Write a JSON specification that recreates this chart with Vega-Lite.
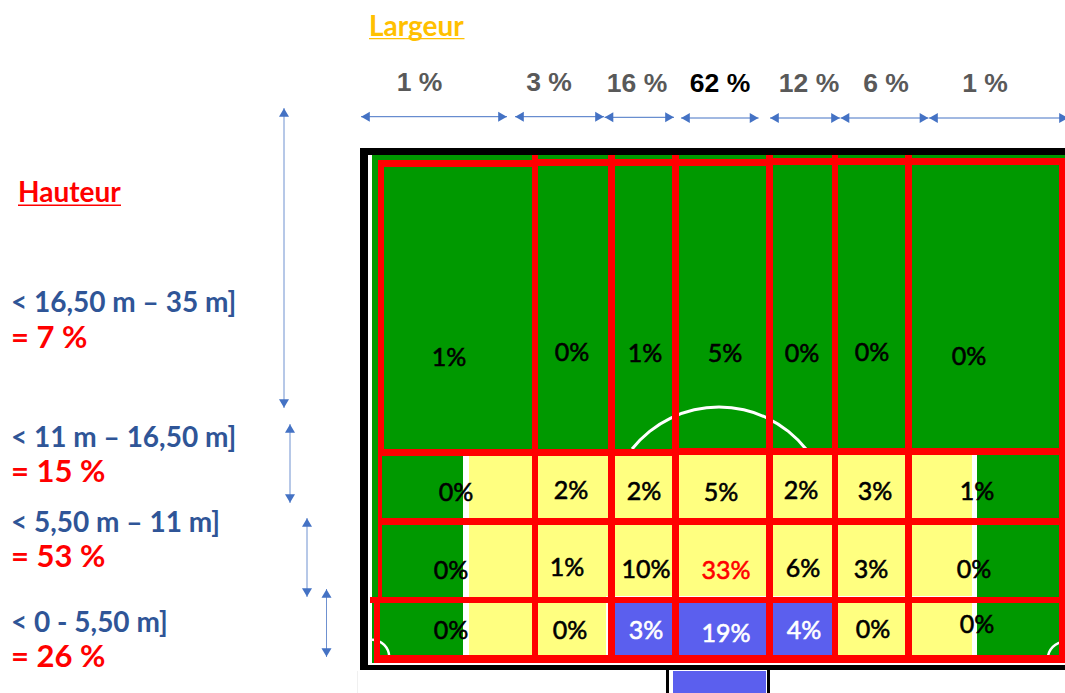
{
"$schema":"https://vega.github.io/schema/vega-lite/v6.json",
"width":1065,"height":693,"padding":0,
"autosize":{"type":"none"},
"background":"white",
"view":{"stroke":null},
"datasets":{
"zones":[
{"zone":"trame","x":357,"x2":358,"y":671,"y2":693},
{"zone":"cadre","x":360,"x2":1065,"y":148,"y2":155},
{"zone":"cadre","x":360,"x2":368,"y":148,"y2":670},
{"zone":"cadre","x":360,"x2":1065,"y":665,"y2":670},
{"zone":"terrain","x":372,"x2":1065,"y":155,"y2":663},
{"zone":"ligne","x":463,"x2":977,"y":452,"y2":656},
{"zone":"surface","x":469,"x2":972,"y":454,"y2":596},
{"zone":"surface","x":469,"x2":606,"y":596,"y2":656},
{"zone":"surface","x":608,"x2":972,"y":598,"y2":656},
{"zone":"but","x":615,"x2":672,"y":603,"y2":656},
{"zone":"but","x":679,"x2":766,"y":603,"y2":656},
{"zone":"but","x":772,"x2":832,"y":603,"y2":656},
{"zone":"cadre","x":666,"x2":770,"y":670,"y2":693},
{"zone":"ligne","x":669,"x2":767,"y":670,"y2":693},
{"zone":"but","x":673,"x2":766,"y":671,"y2":693}
],
"lignes":[
{"x":378,"x2":532,"y":160,"y2":167},
{"x":532,"x2":772,"y":159,"y2":166},
{"x":772,"x2":1060,"y":158,"y2":165},
{"x":378,"x2":384,"y":160,"y2":451},
{"x":378,"x2":382,"y":451,"y2":600},
{"x":374,"x2":380,"y":600,"y2":663},
{"x":532,"x2":538,"y":155,"y2":663},
{"x":608,"x2":615,"y":155,"y2":663},
{"x":672,"x2":679,"y":155,"y2":663},
{"x":766,"x2":773,"y":155,"y2":663},
{"x":832,"x2":838,"y":155,"y2":663},
{"x":905,"x2":912,"y":155,"y2":663},
{"x":1059,"x2":1065,"y":158,"y2":663},
{"x":378,"x2":679,"y":449,"y2":456},
{"x":679,"x2":1065,"y":448,"y2":455},
{"x":378,"x2":1065,"y":518,"y2":525},
{"x":370,"x2":1065,"y":597,"y2":603},
{"x":374,"x2":1065,"y":655,"y2":663}
],
"arcs":[
{"x":719,"y":518,"a0":-0.9,"a1":0.9,"r":109.5,"r2":112.5},
{"x":372,"y":657,"a0":0,"a1":1.57,"r":16,"r2":18.5},
{"x":1065,"y":659,"a0":-1.57,"a1":0,"r":16,"r2":18.5}
],
"cellules":[
{"label":"1%","zone":"terrain","x":449,"y":357},
{"label":"0%","zone":"terrain","x":572,"y":352},
{"label":"1%","zone":"terrain","x":645,"y":353},
{"label":"5%","zone":"terrain","x":725,"y":353},
{"label":"0%","zone":"terrain","x":802,"y":353},
{"label":"0%","zone":"terrain","x":872,"y":352},
{"label":"0%","zone":"terrain","x":969,"y":356},
{"label":"0%","zone":"surface","x":456,"y":492},
{"label":"2%","zone":"surface","x":571,"y":490},
{"label":"2%","zone":"surface","x":644,"y":491},
{"label":"5%","zone":"surface","x":721,"y":492},
{"label":"2%","zone":"surface","x":801,"y":490},
{"label":"3%","zone":"surface","x":875,"y":491},
{"label":"1%","zone":"surface","x":977,"y":491},
{"label":"0%","zone":"surface","x":451,"y":570},
{"label":"1%","zone":"surface","x":567,"y":567},
{"label":"10%","zone":"surface","x":646,"y":569},
{"label":"33%","zone":"max","x":726,"y":570},
{"label":"6%","zone":"surface","x":803,"y":568},
{"label":"3%","zone":"surface","x":871,"y":569},
{"label":"0%","zone":"surface","x":974,"y":569},
{"label":"0%","zone":"surface","x":451,"y":630},
{"label":"0%","zone":"surface","x":570,"y":630},
{"label":"3%","zone":"but","x":646,"y":630},
{"label":"19%","zone":"but","x":726,"y":633},
{"label":"4%","zone":"but","x":804,"y":630},
{"label":"0%","zone":"surface","x":873,"y":629},
{"label":"0%","zone":"surface","x":977,"y":624}
],
"largeur":[
{"label":"1 %","x":419.5,"y":90,"top":false},
{"label":"3 %","x":549,"y":90,"top":false},
{"label":"16 %","x":637,"y":91,"top":false},
{"label":"62 %","x":720,"y":91,"top":true},
{"label":"12 %","x":809,"y":91,"top":false},
{"label":"6 %","x":886,"y":91,"top":false},
{"label":"1 %","x":985,"y":91,"top":false}
],
"bandes":[
{"label":"< 16,50 m – 35 m]","x":11,"y":310},
{"label":"< 11 m – 16,50 m]","x":11,"y":445},
{"label":"< 5,50 m – 11 m]","x":11,"y":530},
{"label":"< 0 - 5,50 m]","x":11,"y":630}
],
"parts":[
{"label":"= 7 %","x":11,"y":347},
{"label":"= 15 %","x":11,"y":481},
{"label":"= 53 %","x":11,"y":566},
{"label":"= 26 %","x":11,"y":666}
],
"titres":[
{"label":"Largeur","axe":"largeur","x":369,"x2":464.5,"y":35,"y2":38,"y3":39.2},
{"label":"Hauteur","axe":"hauteur","x":18,"x2":121,"y":201,"y2":204.5,"y3":206}
],
"flechesH":[
{"x":361,"x2":507,"y":116.7},
{"x":515,"x2":604,"y":116.7},
{"x":604.5,"x2":674,"y":117.3},
{"x":681,"x2":758.6,"y":118},
{"x":770,"x2":840,"y":118},
{"x":840.5,"x2":928.5,"y":118},
{"x":929,"x2":1068,"y":118}
],
"flechesV":[
{"x":284,"y":108,"y2":408},
{"x":290,"y":424,"y2":503},
{"x":307,"y":518,"y2":597},
{"x":326.5,"y":589,"y2":657}
]
},
"encoding":{
"x":{"field":"x","type":"quantitative","scale":{"domain":[0,1065],"nice":false,"zero":false},"axis":null},
"y":{"field":"y","type":"quantitative","scale":{"domain":[693,0],"nice":false,"zero":false},"axis":null}
},
"layer":[
{"data":{"name":"zones"},"mark":{"type":"rect","strokeWidth":0},
"encoding":{"x2":{"field":"x2"},"y2":{"field":"y2"},
"color":{"field":"zone","type":"nominal","legend":null,"scale":{"domain":["trame","cadre","terrain","ligne","surface","but"],"range":["#f0f0f0","#000000","#009900","#ffffff","#ffff80","#5b5fee"]}}}},
{"data":{"name":"arcs"},"mark":{"type":"arc","fill":"#ffffff"},
"encoding":{"theta":{"field":"a0","type":"quantitative","scale":null,"stack":false},"theta2":{"field":"a1"},
"radius":{"field":"r","type":"quantitative","scale":null},"radius2":{"field":"r2"}}},
{"data":{"name":"lignes"},"mark":{"type":"rect","color":"#ff0000","strokeWidth":0},
"encoding":{"x2":{"field":"x2"},"y2":{"field":"y2"}}},
{"data":{"name":"flechesH"},"mark":{"type":"rule","color":"#4472c4","strokeWidth":1},
"encoding":{"x2":{"field":"x2"}}},
{"data":{"name":"flechesH"},"mark":{"type":"point","shape":"triangle-left","filled":true,"size":100,"opacity":1,"color":"#4472c4","xOffset":4.5}},
{"data":{"name":"flechesH"},"mark":{"type":"point","shape":"triangle-right","filled":true,"size":100,"opacity":1,"color":"#4472c4","xOffset":-4.5},
"encoding":{"x":{"field":"x2","type":"quantitative","scale":{"domain":[0,1065],"nice":false,"zero":false},"axis":null}}},
{"data":{"name":"flechesV"},"mark":{"type":"rule","color":"#6f91d0","strokeWidth":1},
"encoding":{"y2":{"field":"y2"}}},
{"data":{"name":"flechesV"},"mark":{"type":"point","shape":"triangle-up","filled":true,"size":100,"opacity":1,"color":"#4472c4","yOffset":4.5}},
{"data":{"name":"flechesV"},"mark":{"type":"point","shape":"triangle-down","filled":true,"size":100,"opacity":1,"color":"#4472c4","yOffset":-4.5},
"encoding":{"y":{"field":"y2","type":"quantitative","scale":{"domain":[693,0],"nice":false,"zero":false},"axis":null}}},
{"data":{"name":"cellules"},"mark":{"type":"text","font":"Lato","fontSize":25,"strokeWidth":0.6,"align":"center","baseline":"middle","dy":1},
"encoding":{"text":{"field":"label"},
"color":{"value":"#000000","condition":[{"test":"datum.zone === 'max'","value":"#ff0000"},{"test":"datum.zone === 'but'","value":"#ffffff"}]},
"stroke":{"value":"#000000","condition":[{"test":"datum.zone === 'max'","value":"#ff0000"},{"test":"datum.zone === 'but'","value":"#ffffff"}]}}},
{"data":{"name":"largeur"},"mark":{"type":"text","font":"Liberation Sans","fontWeight":"bold","fontSize":26.5,"align":"center","baseline":"alphabetic","dy":0.5},
"encoding":{"text":{"field":"label"},"color":{"value":"#595959","condition":{"test":"datum.top","value":"#000000"}}}},
{"data":{"name":"bandes"},"mark":{"type":"text","font":"Lato","fontWeight":"bold","fontSize":28,"align":"left","baseline":"alphabetic","color":"#2f5597","dy":1.5},
"encoding":{"text":{"field":"label"}}},
{"data":{"name":"parts"},"mark":{"type":"text","font":"Lato","fontWeight":"bold","fontSize":31,"align":"left","baseline":"alphabetic","color":"#ff0000","dy":1},
"encoding":{"text":{"field":"label"}}},
{"data":{"name":"titres"},"mark":{"type":"text","font":"Lato","fontWeight":"bold","fontSize":28,"align":"left","baseline":"alphabetic","dy":1},
"encoding":{"text":{"field":"label"},"color":{"value":"#ff0000","condition":{"test":"datum.axe === 'largeur'","value":"#ffc000"}}}},
{"data":{"name":"titres"},"mark":{"type":"rect","strokeWidth":0},
"encoding":{"x2":{"field":"x2"},"y":{"field":"y2","type":"quantitative","scale":{"domain":[693,0],"nice":false,"zero":false},"axis":null},"y2":{"field":"y3"},
"color":{"value":"#ff0000","condition":{"test":"datum.axe === 'largeur'","value":"#ffc000"}}}}
]
}
